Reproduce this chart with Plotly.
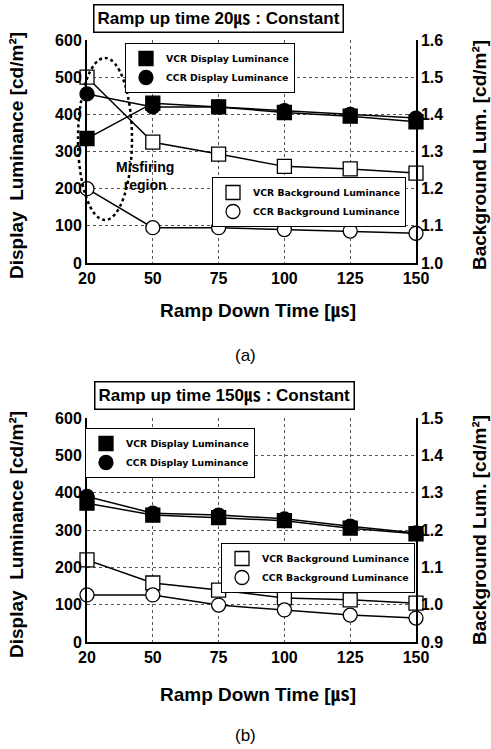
import plotly.graph_objects as go

ramp_down = ["20", "50", "75", "100", "125", "150"]

# (a) Ramp up time 20us
a_vcr_disp = [335, 430, 420, 405, 395, 380]
a_ccr_disp = [455, 420, 420, 410, 400, 390]
a_vcr_bg = [1.50, 1.325, 1.293, 1.26, 1.253, 1.242]
a_ccr_bg = [1.20, 1.095, 1.095, 1.09, 1.086, 1.08]

# (b) Ramp up time 150us
b_vcr_disp = [372, 340, 333, 325, 305, 290]
b_ccr_disp = [390, 345, 340, 330, 310, 292]
b_vcr_bg = [1.12, 1.058, 1.039, 1.018, 1.013, 1.004]
b_ccr_bg = [1.026, 1.026, 0.999, 0.986, 0.972, 0.964]

W, H = 491, 749
ML, MR, MT, MB = 87, 75, 40, 107
PW = W - ML - MR
PH = H - MT - MB

def px(x):
    return (x - ML) / PW

def py(y):
    return (H - MB - y) / PH

FONT = "Liberation Sans, Arial, Noto Sans CJK JP, sans-serif"
LFONT = "DejaVu Sans, Liberation Sans, sans-serif"

fig = go.Figure()

def add_series(xax, yax, vals, symbol, name, legend):
    fig.add_trace(go.Scatter(x=ramp_down, y=vals, xaxis=xax, yaxis=yax, mode="lines",
                             line=dict(color="black", width=1.5), showlegend=False,
                             cliponaxis=False, hoverinfo="skip"))
    fill = "black" if "open" not in symbol else "white"
    fig.add_trace(go.Scatter(x=ramp_down, y=vals, xaxis=xax, yaxis=yax, mode="markers",
                             marker=dict(symbol=symbol.replace("-open", ""), size=14, color=fill,
                                         line=dict(color="black", width=1.3)),
                             name=name, legend=legend, cliponaxis=False))

add_series("x", "y2", a_vcr_bg, "square-open", "VCR Background Luminance", "legend2")
add_series("x", "y2", a_ccr_bg, "circle-open", "CCR Background Luminance", "legend2")
add_series("x", "y", a_vcr_disp, "square", "VCR Display Luminance", "legend")
add_series("x", "y", a_ccr_disp, "circle", "CCR Display Luminance", "legend")

add_series("x2", "y4", b_vcr_bg, "square-open", "VCR Background Luminance", "legend4")
add_series("x2", "y4", b_ccr_bg, "circle-open", "CCR Background Luminance", "legend4")
add_series("x2", "y3", b_vcr_disp, "square", "VCR Display Luminance", "legend3")
add_series("x2", "y3", b_ccr_disp, "circle", "CCR Display Luminance", "legend3")

top_dom = [py(263), py(40)]
bot_dom = [py(642), py(418)]

grid = dict(showgrid=True, gridcolor="#555", griddash="dot", gridwidth=1)
tickf = dict(family=FONT, size=16, color="black", weight="bold")

xcommon = dict(type="category", range=[0, 5], showline=True, linecolor="black", linewidth=2,
               ticks="", tickfont=tickf, zeroline=False, **grid)
fig.update_layout(
    xaxis=dict(domain=[0, 1], anchor="y", **xcommon),
    xaxis2=dict(domain=[0, 1], anchor="y3", **xcommon),
    yaxis=dict(domain=top_dom, range=[0, 600], dtick=100, showline=True, linecolor="black",
               linewidth=2, tickfont=tickf, zeroline=False, ticks="", **grid),
    yaxis2=dict(overlaying="y", side="right", anchor="x", range=[1.0, 1.6], dtick=0.1,
                tickformat=".1f", showline=True, linecolor="black", linewidth=1.5,
                tickfont=tickf, showgrid=False, zeroline=False, ticks=""),
    yaxis3=dict(domain=bot_dom, anchor="x2", range=[0, 600], dtick=100, showline=True,
                linecolor="black", linewidth=2, tickfont=tickf, zeroline=False, ticks="", **grid),
    yaxis4=dict(overlaying="y3", side="right", anchor="x2", range=[0.9, 1.5], dtick=0.1,
                tickformat=".1f", showline=True, linecolor="black", linewidth=1.5,
                tickfont=tickf, showgrid=False, zeroline=False, ticks=""),
)

legfont = dict(family=LFONT, size=9.3, color="black", weight="bold")
legcommon = dict(font=legfont, bgcolor="white", bordercolor="black", borderwidth=1,
                 xanchor="left", yanchor="top", itemwidth=30, tracegroupgap=0)
fig.update_layout(
    legend=dict(x=px(125), y=py(43), **legcommon),
    legend2=dict(x=px(212), y=py(177), **legcommon),
    legend3=dict(x=px(85), y=py(428), **legcommon),
    legend4=dict(x=px(221), y=py(543), **legcommon),
)

ann = []
def text(x, y, s, size=16, angle=0, bold=True, border=False, xanchor="center"):
    d = dict(x=px(x), y=py(y), xref="paper", yref="paper", text=s, showarrow=False,
             textangle=angle, xanchor=xanchor, yanchor="middle",
             font=dict(family=FONT, size=size, color="black", weight="bold" if bold else "normal"))
    if border:
        d.update(bordercolor="black", borderwidth=1.5, bgcolor="white", borderpad=3)
    ann.append(d)

text(218, 19, "Ramp up time 20㎲ : Constant", size=17, border=True)
text(224, 395, "Ramp up time 150㎲ : Constant", size=17, border=True)
text(258, 311, "Ramp Down Time [㎲]", size=19)
text(258, 695, "Ramp Down Time [㎲]", size=19)
text(245, 355, "(a)", size=17, bold=False)
text(245, 735, "(b)", size=17, bold=False)
text(16, 156, "Display  Luminance [cd/m²]", size=19, angle=-90)
text(16, 535, "Display  Luminance [cd/m²]", size=19, angle=-90)
text(479, 155, "Background Lum. [cd/m²]", size=19, angle=-90)
text(479, 530, "Background Lum. [cd/m²]", size=19, angle=-90)
text(114, 176, "Misfiring<br>region", size=14, xanchor="left")

fig.update_layout(
    annotations=ann,
    shapes=[dict(type="circle", xref="paper", yref="paper", x0=px(78), x1=px(132),
                 y0=py(220), y1=py(58), line=dict(color="black", width=2.5, dash="dot"))],
    width=W, height=H, margin=dict(l=ML, r=MR, t=MT, b=MB),
    paper_bgcolor="white", plot_bgcolor="white",
    font=dict(family=FONT, color="black"),
)

fig.write_html("out.html", config={"displayModeBar": False},
               post_script="document.body.style.margin='0px';")
